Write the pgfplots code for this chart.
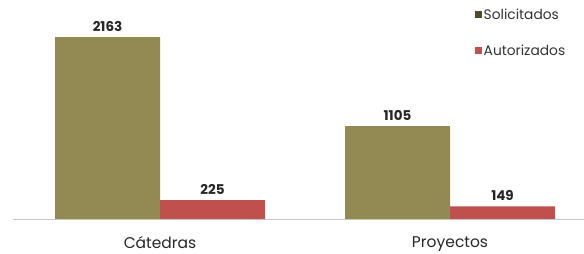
\documentclass[border=0pt]{standalone}
\usepackage{pgfplots}
\pgfplotsset{compat=1.18}
\usepackage{fontspec}
\setmainfont{Poppins}
\definecolor{olivebar}{HTML}{938953}
\definecolor{olivedark}{HTML}{4F4B2C}
\definecolor{redbar}{HTML}{C0504D}
\begin{document}
\begin{tikzpicture}
\begin{axis}[
  at={(13pt,35pt)}, anchor=south west,
  scale only axis, width=571pt, height=219pt,
  xmin=-0.507, xmax=1.462, ymin=0, ymax=2603,
  ybar, bar width=105pt,
  axis y line=none, axis x line*=bottom,
  x axis line style={draw=gray!45, line width=0.8pt, -},
  xtick={0,1}, xticklabels={Cátedras,Proyectos},
  major tick length=0pt,
  xticklabel style={font=\fontsize{15.5}{18}\selectfont, yshift=-14pt, text=black!85},
  nodes near coords,
  /pgf/number format/.cd, 1000 sep={}, assume math mode=true, /pgfplots/.cd,
  every node near coord/.append style={font=\bfseries\fontsize{13.5}{16}\selectfont, text=black!85, yshift=2pt},
  legend style={at={(rel axis cs:0.803,0.98)}, anchor=north west, draw=none, fill=none,
    font=\fontsize{13.8}{17}\selectfont, row sep=20pt, text=black!80,
    /tikz/every even column/.append style={column sep=3pt}},
  legend cell align=left,
  clip=false,
]
\addplot[draw=none, fill=olivebar, bar shift=-52.5pt,
  legend image code/.code={\fill[olivedark] (0pt,-3.5pt) rectangle (7pt,3.5pt);}]
  coordinates {(0,2163) (1,1105)};
\addlegendentry{Solicitados}
\addplot[draw=none, fill=redbar, bar shift=52.5pt,
  legend image code/.code={\fill[redbar] (0pt,-3.5pt) rectangle (7pt,3.5pt);}]
  coordinates {(0,225) (1,149)};
\addlegendentry{Autorizados}
\end{axis}
\pgfresetboundingbox
\path (0,0) rectangle (584pt,254pt);
\end{tikzpicture}
\end{document}
